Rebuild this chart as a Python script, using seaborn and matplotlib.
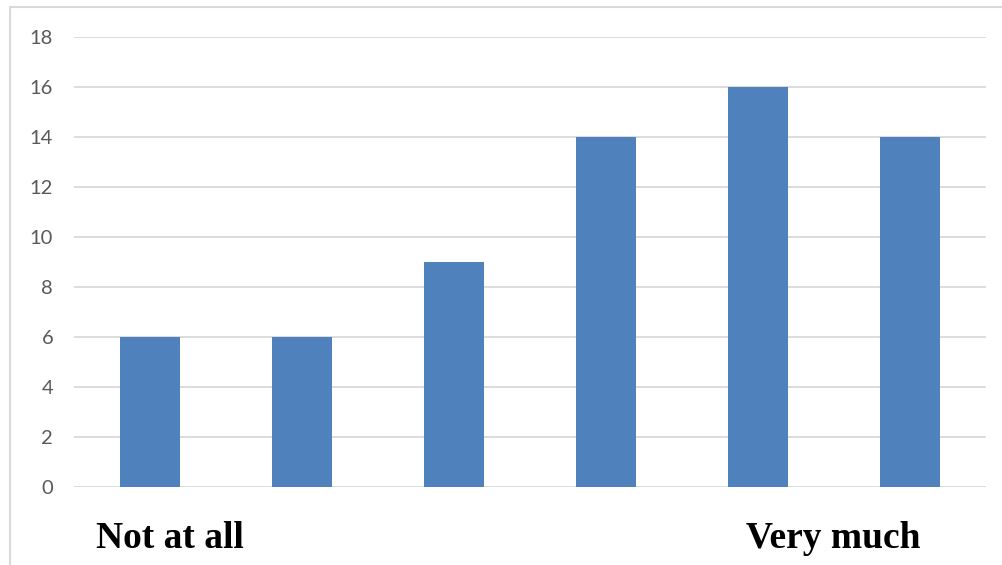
import pandas as pd
import seaborn as sns
import matplotlib.pyplot as plt
from matplotlib.patches import Rectangle

# Chart data
categories = ['1', '2', '3', '4', '5', '6']
counts = [6, 6, 9, 14, 16, 14]
y_ticks = [0, 2, 4, 6, 8, 10, 12, 14, 16, 18]

df = pd.DataFrame({'Category': categories, 'Count': counts})

sns.set_style('white')
plt.rcParams['font.family'] = ['Lato', 'DejaVu Sans']

fig = plt.figure(figsize=(10.02, 5.65), dpi=100)
ax = fig.add_axes([74 / 1002, 78 / 565, 912 / 1002, 450 / 565])

sns.barplot(data=df, x='Category', y='Count', color='#4f81bd', saturation=1,
            width=0.4, linewidth=0, ax=ax, zorder=3)

ax.set_ylim(0, 18)
ax.set_xlim(-0.5, len(categories) - 0.5)
ax.set_yticks(y_ticks)
ax.set_yticklabels([str(t) for t in y_ticks], color='#595959', fontsize=14.5)
ax.tick_params(axis='y', length=0, pad=15)
ax.set_xticks([])
ax.set_xlabel('')
ax.set_ylabel('')
ax.yaxis.grid(True, color='#d9d9d9', linewidth=1.3, zorder=0)
ax.set_axisbelow(True)
for s in ax.spines.values():
    s.set_visible(False)

# Scale end labels
fig.text(170 / 1002, 1 - 538 / 565, 'Not at all', ha='center', va='center',
         fontsize=27, fontweight='bold', family='Liberation Serif', color='black')
fig.text(833 / 1002, 1 - 538 / 565, 'Very much', ha='center', va='center',
         fontsize=27, fontweight='bold', family='Liberation Serif', color='black')

# Chart border
fig.patches.append(Rectangle((10 / 1002, -0.05), 1.05, 1 - 7 / 565 + 0.05,
                             transform=fig.transFigure, fill=False,
                             edgecolor='#d9d9d9', linewidth=1.5))

fig.savefig('out.png', dpi=100)
